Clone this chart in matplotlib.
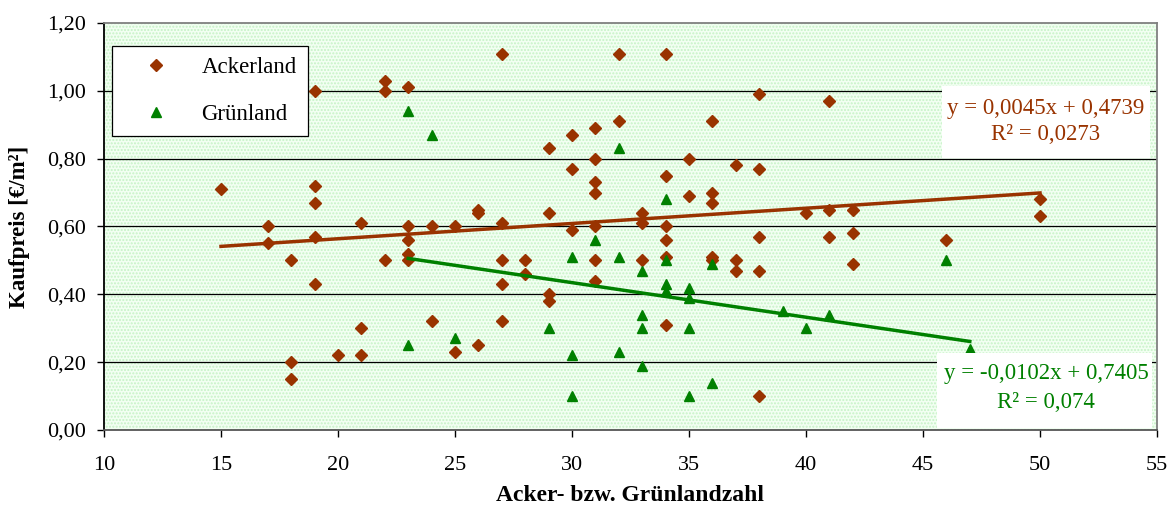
import matplotlib
matplotlib.use("Agg")
import matplotlib.pyplot as plt
from matplotlib.patches import Rectangle
import numpy as np

plt.rcParams['font.family'] = ['Liberation Serif', 'DejaVu Serif']
plt.rcParams['hatch.linewidth'] = 1.0

# Ackerland: Ackerzahl / Kaufpreis
acker_x = [15, 17, 17, 18, 18, 18, 19, 19, 19, 19, 19, 20, 21, 21, 21,
           22, 22, 22, 23, 23, 23, 23, 23, 24, 24, 25, 25, 26, 26, 26,
           27, 27, 27, 27, 27, 28, 28, 29, 29, 29, 29, 30, 30, 30,
           31, 31, 31, 31, 31, 31, 31, 32, 32, 33, 33, 33,
           34, 34, 34, 34, 34, 34, 35, 35, 36, 36, 36, 36, 36,
           37, 37, 37, 38, 38, 38, 38, 38, 40, 41, 41, 41, 42, 42, 42,
           46, 50, 50]
acker_y = [0.71, 0.60, 0.55, 0.50, 0.20, 0.15, 1.00, 0.72, 0.67, 0.57, 0.43, 0.22, 0.61, 0.30, 0.22,
           1.03, 1.00, 0.50, 1.01, 0.60, 0.56, 0.52, 0.50, 0.60, 0.32, 0.60, 0.23, 0.65, 0.64, 0.25,
           1.11, 0.61, 0.50, 0.43, 0.32, 0.50, 0.46, 0.83, 0.64, 0.40, 0.38, 0.87, 0.77, 0.59,
           0.89, 0.80, 0.73, 0.70, 0.60, 0.50, 0.44, 1.11, 0.91, 0.64, 0.61, 0.50,
           1.11, 0.75, 0.60, 0.56, 0.51, 0.31, 0.80, 0.69, 0.91, 0.70, 0.67, 0.51, 0.50,
           0.78, 0.50, 0.47, 0.99, 0.77, 0.57, 0.47, 0.10, 0.64, 0.97, 0.65, 0.57, 0.65, 0.58, 0.49,
           0.56, 0.68, 0.63]

# Grünland: Grünlandzahl / Kaufpreis
gruen_x = [23, 23, 24, 25, 29, 30, 30, 30, 31, 32, 32, 32, 33, 33, 33, 33,
           34, 34, 34, 34, 35, 35, 35, 35, 36, 36, 39, 40, 41, 46, 47]
gruen_y = [0.94, 0.25, 0.87, 0.27, 0.30, 0.51, 0.22, 0.10, 0.56, 0.83, 0.51, 0.23, 0.47, 0.34, 0.30, 0.19,
           0.68, 0.50, 0.43, 0.41, 0.42, 0.39, 0.30, 0.10, 0.49, 0.14, 0.35, 0.30, 0.34, 0.50, 0.24]

# Trendlinien laut Diagramm
acker_fit = (0.0045, 0.4739)
gruen_fit = (-0.0102, 0.7405)
acker_label = ['y = 0,0045x + 0,4739', 'R² = 0,0273']
gruen_label = ['y = -0,0102x + 0,7405', 'R² = 0,074']

y_ticks = [0.0, 0.2, 0.4, 0.6, 0.8, 1.0, 1.2]
y_ticklabels = ['0,00', '0,20', '0,40', '0,60', '0,80', '1,00', '1,20']
x_ticks = [10, 15, 20, 25, 30, 35, 40, 45, 50, 55]

brown = '#993300'
green = '#008000'

W, H = 1169, 508
fig = plt.figure(figsize=(W / 100, H / 100), dpi=100)
ax = fig.add_axes([104 / W, (H - 430) / H, (1157 - 104) / W, (430 - 23) / H])
ax.set_xlim(10, 55)
ax.set_ylim(0, 1.2)

# dotted light green plot area
ax.set_facecolor('white')
ax.add_patch(Rectangle((0, 0), 1, 1, transform=ax.transAxes, facecolor='#f2fff2',
                       edgecolor='#c6f2c6', hatch='.....', linewidth=0, zorder=0))

for yv in y_ticks[1:-1]:
    ax.axhline(yv, color='black', linewidth=0.9, zorder=1)

ax.plot(acker_x, acker_y, linestyle='none', marker='D', markersize=6,
        color=brown, markeredgecolor=brown, label='Ackerland', zorder=3)
ax.plot(gruen_x, gruen_y, linestyle='none', marker='^', markersize=7.5,
        color=green, markeredgecolor=green, label='Grünland', zorder=3)

xa = np.array([min(acker_x), max(acker_x)])
ax.plot(xa, acker_fit[0] * xa + acker_fit[1], color=brown, linewidth=2.5, zorder=4)
xg = np.array([min(gruen_x), max(gruen_x)])
ax.plot(xg, gruen_fit[0] * xg + gruen_fit[1], color=green, linewidth=2.5, zorder=4)

ax.set_xticks(x_ticks)
ax.set_yticks(y_ticks)
ax.set_yticklabels(y_ticklabels)
ax.tick_params(axis='both', direction='out', length=5, width=1, labelsize=16, colors='black')
ax.tick_params(axis='x', pad=14)
ax.tick_params(axis='y', pad=8)

ax.spines['left'].set_color('black')
ax.spines['bottom'].set_color('#555555')
ax.spines['top'].set_color('#808080')
ax.spines['right'].set_color('#808080')
for s in ax.spines.values():
    s.set_linewidth(1.3)

ax.set_xlabel('Acker- bzw. Grünlandzahl', fontsize=17, fontweight='bold')
ax.xaxis.set_label_coords(0.5, -0.135)
ax.set_ylabel('Kaufpreis [€/m²]', fontsize=16.5, fontweight='bold', labelpad=12)

leg = ax.legend(loc='upper left', bbox_to_anchor=((112 - 104) / 1053, (430 - 46) / 407),
                frameon=True, fancybox=False, fontsize=16.5, labelspacing=1.1,
                borderpad=0.5, handletextpad=0.6, handlelength=2.8, borderaxespad=0)
leg.get_frame().set_edgecolor('black')
leg.get_frame().set_linewidth(0.9)
leg.get_frame().set_alpha(1)

# Gleichungsboxen (Pixel von oben)
for x0, y0, x1, y1 in [(942, 86, 1150, 158), (937, 353, 1152, 428)]:
    fig.patches.append(Rectangle((x0 / W, 1 - y1 / H), (x1 - x0) / W, (y1 - y0) / H,
                                 transform=fig.transFigure, facecolor='white',
                                 edgecolor='none', zorder=5))

fig.text(1046 / W, 1 - 108 / H, acker_label[0], color=brown, fontsize=16.5,
         ha='center', va='center', zorder=6)
fig.text(1046 / W, 1 - 135 / H, acker_label[1], color=brown, fontsize=16.5,
         ha='center', va='center', zorder=6)

fig.text(1046 / W, 1 - 373 / H, gruen_label[0], color=green, fontsize=16.5,
         ha='center', va='center', zorder=6)
fig.text(1046 / W, 1 - 402 / H, gruen_label[1], color=green, fontsize=16.5,
         ha='center', va='center', zorder=6)

fig.savefig('out.png', dpi=100)
